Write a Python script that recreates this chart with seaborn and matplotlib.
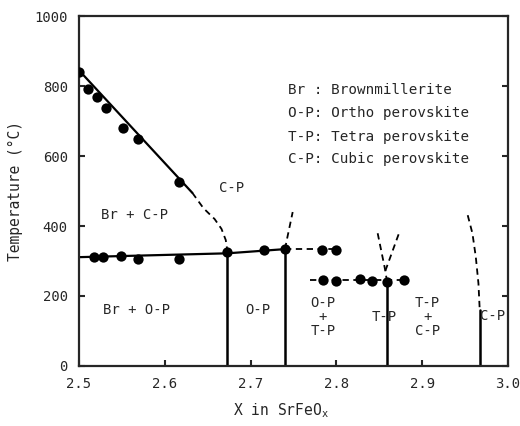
import matplotlib
matplotlib.use("Agg")
import matplotlib.pyplot as plt
import seaborn as sns
import pandas as pd

sns.set_style("ticks")
plt.rcParams["font.family"] = ["DejaVu Sans Mono", "DejaVu Sans"]
plt.rcParams["mathtext.fontset"] = "custom"
plt.rcParams["mathtext.rm"] = "DejaVu Sans Mono"

# Br / Br + C-P boundary (measured)
upper_x = [2.500, 2.510, 2.521, 2.531, 2.551, 2.569, 2.616]
upper_t = [840, 791, 769, 737, 680, 649, 526]
upper_line_x = [2.500, 2.632]
upper_line_t = [845, 495]
upper_dash_x = [2.632, 2.645, 2.658, 2.666, 2.671, 2.673]
upper_dash_t = [495, 451, 420, 392, 360, 327]

# Br -> perovskite transition (measured)
trans_x = [2.518, 2.528, 2.549, 2.569, 2.616, 2.673, 2.716, 2.740, 2.783, 2.800]
trans_t = [311, 311, 314, 307, 307, 326, 331, 334, 331, 331]
trans_line_x = [2.500, 2.673, 2.740]
trans_line_t = [311, 322, 334]
trans_dash_x = [2.740, 2.800]
trans_dash_t = [333, 333]

# O-P / T-P transition (measured)
ot_x = [2.784, 2.800, 2.827, 2.842, 2.859, 2.879]
ot_t = [247, 243, 249, 244, 240, 247]
ot_dash_x = [2.769, 2.879]
ot_dash_t = [245, 245]

# single-phase boundaries
vert_x = [2.673, 2.740, 2.859, 2.967]
vert_top = [326, 334, 240, 160]

# estimated boundaries at higher temperature
op_dash_x = [2.740, 2.743, 2.746, 2.749]
op_dash_t = [334, 370, 405, 440]
tp_left_x = [2.859, 2.857, 2.848]
tp_left_t = [240, 272, 380]
tp_right_x = [2.857, 2.873]
tp_right_t = [272, 380]
cp_dash_x = [2.953, 2.9585, 2.9624, 2.9655, 2.967]
cp_dash_t = [431, 379, 312, 236, 160]

legend_lines = ["Br : Brownmillerite", "O-P: Ortho perovskite",
                "T-P: Tetra perovskite", "C-P: Cubic perovskite"]
legend_t = [789, 723, 655, 591]

region_labels = ["C-P", "Br + C-P", "Br + O-P", "O-P", "O-P\n+\nT-P",
                 "T-P", "T-P\n+\nC-P", "C-P"]
region_x = [2.678, 2.565, 2.567, 2.708, 2.784, 2.856, 2.906, 2.982]
region_t = [509, 431, 160, 160, 140, 140, 140, 143]

fig = plt.figure(figsize=(5.2, 4.26), dpi=100)
ax = fig.add_axes([0.152, 0.141, 0.825, 0.821])

def line(xs, ts, dashed=False, lw=1.6):
    df = pd.DataFrame({"x": xs, "t": ts})
    sns.lineplot(data=df, x="x", y="t", ax=ax, color="black",
                 lw=1.3 if dashed else lw,
                 estimator=None, sort=False,
                 linestyle=(0, (3.5, 2.5)) if dashed else "-")

line(upper_line_x, upper_line_t)
line(upper_dash_x, upper_dash_t, dashed=True)
line(trans_line_x, trans_line_t)
line(trans_dash_x, trans_dash_t, dashed=True)
line(ot_dash_x, ot_dash_t, dashed=True)
for vx, vt in zip(vert_x, vert_top):
    line([vx, vx], [0, vt], lw=1.8)
line(op_dash_x, op_dash_t, dashed=True)
line(tp_left_x, tp_left_t, dashed=True)
line(tp_right_x, tp_right_t, dashed=True)
line(cp_dash_x, cp_dash_t, dashed=True)

for xs, ts in [(upper_x, upper_t), (trans_x, trans_t), (ot_x, ot_t)]:
    sns.scatterplot(x=xs, y=ts, ax=ax, color="black", s=55,
                    edgecolor="black", linewidth=0, zorder=5)

for i, txt in enumerate(legend_lines):
    ax.text(2.743, legend_t[i], txt, fontsize=10.3, va="center", ha="left")

for txt, x, t in zip(region_labels, region_x, region_t):
    ax.text(x, t, txt, fontsize=10, va="center", ha="center",
            linespacing=1.0)

ax.set_xlim(2.5, 3.0)
ax.set_ylim(0, 1000)
ax.set_xticks([2.5, 2.6, 2.7, 2.8, 2.9, 3.0])
ax.set_xticklabels(["2.5", "2.6", "2.7", "2.8", "2.9", "3.0"])
ax.set_yticks([0, 200, 400, 600, 800, 1000])
ax.tick_params(direction="in", length=4, width=1.5, labelsize=10,
               right=True, top=False, pad=8)
for s in ax.spines.values():
    s.set_linewidth(1.6)
    s.set_visible(True)
ax.set_xlabel(r"X in SrFeO$_\mathregular{x}$", fontsize=10.5, labelpad=5)
ax.xaxis.set_label_coords(0.47, -0.1)
ax.set_ylabel("Temperature (°C)", fontsize=10.5, labelpad=8)

fig.savefig("out.png", dpi=100)
